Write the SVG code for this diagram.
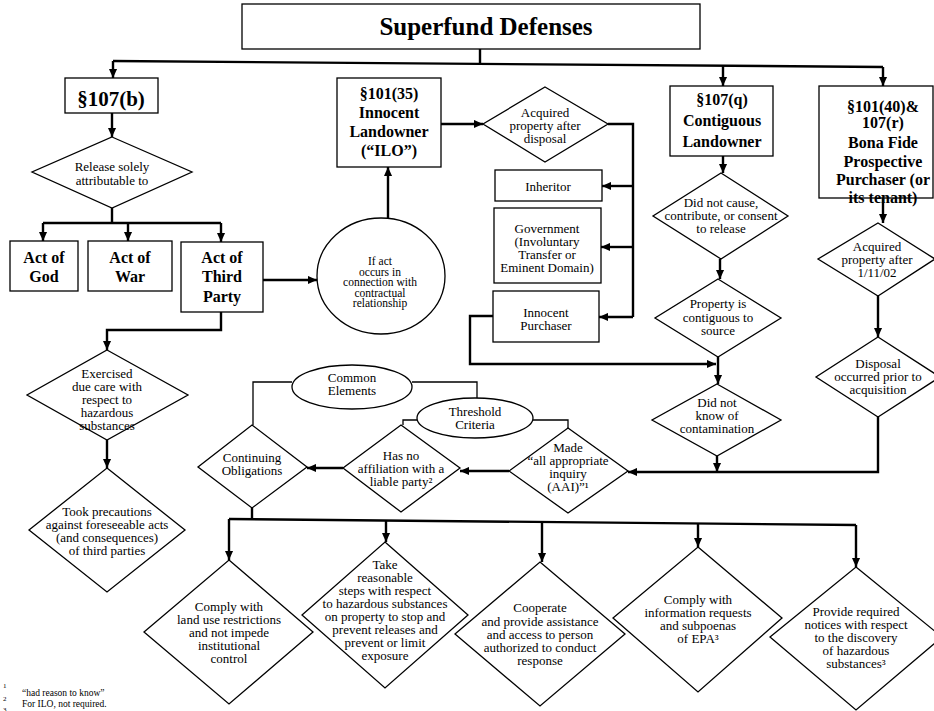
<svg xmlns="http://www.w3.org/2000/svg" width="934" height="711" viewBox="0 0 934 711">
<style>
.shape{fill:#fff;stroke:#000;stroke-width:1.3}
.hd{font-family:"Liberation Serif","Times New Roman",serif;font-weight:bold;font-size:16px;text-anchor:middle;fill:#000}
.tx{font-family:"Liberation Serif","Times New Roman",serif;font-size:13px;text-anchor:middle;fill:#000}
.sm{font-family:"Liberation Serif","Times New Roman",serif;font-size:11.5px;text-anchor:middle;fill:#000}
.fn{font-family:"Liberation Serif","Times New Roman",serif;font-size:9.5px;fill:#000}
.ln{fill:none;stroke:#000;stroke-width:2.4}
.thin{fill:none;stroke:#000;stroke-width:1.3}
</style>
<defs>
<marker id="ah" markerUnits="userSpaceOnUse" markerWidth="9" markerHeight="9" viewBox="0 0 10 10" refX="10" refY="5" orient="auto"><path d="M0,0.5 L10,5 L0,9.5 z" fill="#000"/></marker>
</defs>
<rect width="934" height="711" fill="#fff"/>

<g id="connectors">
<path class="ln" d="M480,49 V64"/>
<path class="ln" d="M113,61 L883,67"/>
<path class="ln" d="M113,61 V78" marker-end="url(#ah)"/>
<path class="ln" d="M723,66 V86" marker-end="url(#ah)"/>
<path class="ln" d="M883,67 V86" marker-end="url(#ah)"/>
<path class="ln" d="M112,113 V137" marker-end="url(#ah)"/>
<path class="ln" d="M112,208 V223"/>
<path class="ln" d="M43,223 H221"/>
<path class="ln" d="M43,223 V241" marker-end="url(#ah)"/>
<path class="ln" d="M128,223 V241" marker-end="url(#ah)"/>
<path class="ln" d="M221,223 V242" marker-end="url(#ah)"/>
<path class="ln" d="M263,280 H317" marker-end="url(#ah)"/>
<path class="ln" d="M388,219 V167" marker-end="url(#ah)"/>
<path class="ln" d="M221,312 V330 H107 V350" marker-end="url(#ah)"/>
<path class="ln" d="M107,440 V468" marker-end="url(#ah)"/>
<path class="ln" d="M441,124 H483" marker-end="url(#ah)"/>
<path class="ln" d="M608,124 H633 V317"/>
<path class="ln" d="M633,186 H602" marker-end="url(#ah)"/>
<path class="ln" d="M633,247 H601" marker-end="url(#ah)"/>
<path class="ln" d="M633,317 H599" marker-end="url(#ah)"/>
<path class="ln" d="M493,316 H470 V364 H716" marker-end="url(#ah)"/>
<path class="ln" d="M723,156 V173" marker-end="url(#ah)"/>
<path class="ln" d="M720,259 V279" marker-end="url(#ah)"/>
<path class="ln" d="M718,357 V384" marker-end="url(#ah)"/>
<path class="ln" d="M717,456 V472" marker-end="url(#ah)"/>
<path class="ln" d="M878,417 V472 H628" marker-end="url(#ah)"/>
<path class="ln" d="M883,198 V223" marker-end="url(#ah)"/>
<path class="ln" d="M878,296 V337" marker-end="url(#ah)"/>
<path class="ln" d="M509,471 H460" marker-end="url(#ah)"/>
<path class="ln" d="M343,468 H307" marker-end="url(#ah)"/>
<path class="thin" d="M292,382 H253 V425"/>
<path class="thin" d="M412,382 H477 V398"/>
<path class="thin" d="M417,420 H403 V425"/>
<path class="thin" d="M533,420 H568 V428"/>
<path class="ln" d="M252,508 V520"/>
<path class="ln" d="M229,519 L856,525"/>
<path class="ln" d="M229,519 V560" marker-end="url(#ah)"/>
<path class="ln" d="M386,520 V542" marker-end="url(#ah)"/>
<path class="ln" d="M542,522 V562" marker-end="url(#ah)"/>
<path class="ln" d="M698,523 V547" marker-end="url(#ah)"/>
<path class="ln" d="M856,525 V567" marker-end="url(#ah)"/>
</g>

<g id="title">
<rect class="shape" x="242" y="4" width="458" height="45"/>
<text x="486" y="35" class="hd" style="font-size:25px">Superfund Defenses</text>
</g>

<g id="s107b">
<rect class="shape" x="65" y="78" width="93" height="35"/>
<text x="111" y="106" class="hd" style="font-size:21px">§107(b)</text>
</g>

<g id="release">
<polygon class="shape" points="112,137 192,172 112,208 32,172"/>
<text class="tx"><tspan x="112" y="171">Release solely</tspan><tspan x="112" y="185">attributable to</tspan></text>
</g>

<g id="actgod">
<rect class="shape" x="10" y="241" width="68" height="50"/>
<text class="hd"><tspan x="44" y="263">Act of</tspan><tspan x="44" y="282">God</tspan></text>
</g>

<g id="actwar">
<rect class="shape" x="88" y="241" width="84" height="50"/>
<text class="hd"><tspan x="130" y="263">Act of</tspan><tspan x="130" y="282">War</tspan></text>
</g>

<g id="actthird">
<rect class="shape" x="181" y="242" width="82" height="70"/>
<text class="hd"><tspan x="222" y="263">Act of</tspan><tspan x="222" y="282">Third</tspan><tspan x="222" y="302">Party</tspan></text>
</g>

<g id="contractual">
<ellipse class="shape" cx="381" cy="276" rx="64" ry="58"/>
<text class="sm"><tspan x="380" y="265">If act</tspan><tspan x="380" y="275.5">occurs in</tspan><tspan x="380" y="286">connection with</tspan><tspan x="380" y="296.5">contractual</tspan><tspan x="380" y="307">relationship</tspan></text>
</g>

<g id="ilo">
<rect class="shape" x="337" y="78" width="104" height="89"/>
<text class="hd"><tspan x="389" y="99">§101(35)</tspan><tspan x="389" y="118">Innocent</tspan><tspan x="389" y="137">Landowner</tspan><tspan x="389" y="156">(“ILO”)</tspan></text>
</g>

<g id="acqdisposal">
<polygon class="shape" points="545,87 608,124 545,162 483,124"/>
<text class="tx"><tspan x="545" y="117">Acquired</tspan><tspan x="545" y="130">property after</tspan><tspan x="545" y="143">disposal</tspan></text>
</g>

<g id="inheritor">
<rect class="shape" x="495" y="170" width="107" height="31"/>
<text x="548" y="191" class="tx">Inheritor</text>
</g>

<g id="government">
<rect class="shape" x="494" y="208" width="107" height="75"/>
<text class="tx"><tspan x="547" y="233">Government</tspan><tspan x="547" y="246">(Involuntary</tspan><tspan x="547" y="259">Transfer or</tspan><tspan x="547" y="272">Eminent Domain)</tspan></text>
</g>

<g id="innocentpurchaser">
<rect class="shape" x="493" y="291" width="106" height="51"/>
<text class="tx"><tspan x="546" y="317">Innocent</tspan><tspan x="546" y="330">Purchaser</tspan></text>
</g>

<g id="s107q">
<rect class="shape" x="670" y="86" width="103" height="70"/>
<text class="hd"><tspan x="722" y="105">§107(q)</tspan><tspan x="722" y="126">Contiguous</tspan><tspan x="722" y="147">Landowner</tspan></text>
</g>

<g id="didnotcause">
<polygon class="shape" points="721,173 788,216 721,259 653,216"/>
<text class="tx"><tspan x="721" y="207">Did not cause,</tspan><tspan x="721" y="220">contribute, or consent</tspan><tspan x="721" y="233">to release</tspan></text>
</g>

<g id="contiguous">
<polygon class="shape" points="718,279 781,318 718,357 655,318"/>
<text class="tx"><tspan x="718" y="308">Property is</tspan><tspan x="718" y="322">contiguous to</tspan><tspan x="718" y="335">source</tspan></text>
</g>

<g id="didnotknow">
<polygon class="shape" points="717,384 781,420 717,456 652,420"/>
<text class="tx"><tspan x="717" y="407">Did not</tspan><tspan x="717" y="420">know of</tspan><tspan x="717" y="433">contamination</tspan></text>
</g>

<g id="bfpp">
<rect class="shape" x="819" y="86" width="114" height="112"/>
<text class="hd"><tspan x="883" y="112">§101(40)&amp;</tspan><tspan x="883" y="128">107(r)</tspan><tspan x="883" y="148">Bona Fide</tspan><tspan x="883" y="167">Prospective</tspan><tspan x="883" y="185">Purchaser (or</tspan><tspan x="883" y="203">its tenant)</tspan></text>
</g>

<g id="acq0111">
<polygon class="shape" points="878,223 935,259 878,296 818,259"/>
<text class="tx"><tspan x="877" y="251">Acquired</tspan><tspan x="877" y="264">property after</tspan><tspan x="877" y="277">1/11/02</tspan></text>
</g>

<g id="disposalprior">
<polygon class="shape" points="878,337 940,377 878,417 816,377"/>
<text class="tx"><tspan x="878" y="368">Disposal</tspan><tspan x="878" y="381">occurred prior to</tspan><tspan x="878" y="394">acquisition</tspan></text>
</g>

<g id="commonelements">
<ellipse class="shape" cx="352" cy="387" rx="60" ry="22"/>
<text class="tx"><tspan x="352" y="382">Common</tspan><tspan x="352" y="395">Elements</tspan></text>
</g>

<g id="threshold">
<ellipse class="shape" cx="475" cy="418" rx="58" ry="20"/>
<text class="tx"><tspan x="475" y="416">Threshold</tspan><tspan x="475" y="429">Criteria</tspan></text>
</g>

<g id="continuing">
<polygon class="shape" points="252,425 307,467 252,508 198,467"/>
<text class="tx"><tspan x="252" y="462">Continuing</tspan><tspan x="252" y="475">Obligations</tspan></text>
</g>

<g id="noaffiliation">
<polygon class="shape" points="401,425 460,468 401,512 343,468"/>
<text class="tx"><tspan x="401" y="460">Has no</tspan><tspan x="401" y="473">affiliation with a</tspan><tspan x="401" y="486">liable party²</tspan></text>
</g>

<g id="aai">
<polygon class="shape" points="568,428 628,471 568,513 509,471"/>
<text class="tx"><tspan x="568" y="452">Made</tspan><tspan x="568" y="465">“all appropriate</tspan><tspan x="568" y="478">inquiry</tspan><tspan x="568" y="491">(AAI)”¹</tspan></text>
</g>

<g id="exercised">
<polygon class="shape" points="107,350 188,395 107,440 27,395"/>
<text class="tx"><tspan x="107" y="378">Exercised</tspan><tspan x="107" y="391">due care with</tspan><tspan x="107" y="404">respect to</tspan><tspan x="107" y="417">hazardous</tspan><tspan x="107" y="430">substances</tspan></text>
</g>

<g id="precautions">
<polygon class="shape" points="107,468 185,530 107,592 29,530"/>
<text class="tx"><tspan x="107" y="516">Took precautions</tspan><tspan x="107" y="529">against foreseeable acts</tspan><tspan x="107" y="542">(and consequences)</tspan><tspan x="107" y="555">of third parties</tspan></text>
</g>

<g id="landuse">
<polygon class="shape" points="229,560 313,632 229,704 144,632"/>
<text class="tx"><tspan x="229" y="611">Comply with</tspan><tspan x="229" y="624">land use restrictions</tspan><tspan x="229" y="637">and not impede</tspan><tspan x="229" y="650">institutional</tspan><tspan x="229" y="663">control</tspan></text>
</g>

<g id="reasonablesteps">
<polygon class="shape" points="385,542 468,615 385,688 302,615"/>
<text class="tx"><tspan x="385" y="569">Take</tspan><tspan x="385" y="582">reasonable</tspan><tspan x="385" y="595">steps with respect</tspan><tspan x="385" y="608">to hazardous substances</tspan><tspan x="385" y="621">on property to stop and</tspan><tspan x="385" y="634">prevent releases and</tspan><tspan x="385" y="647">prevent or limit</tspan><tspan x="385" y="660">exposure</tspan></text>
</g>

<g id="cooperate">
<polygon class="shape" points="540,562 625,634 540,706 455,634"/>
<text class="tx"><tspan x="540" y="612">Cooperate</tspan><tspan x="540" y="626">and provide assistance</tspan><tspan x="540" y="639">and access to person</tspan><tspan x="540" y="652">authorized to conduct</tspan><tspan x="540" y="665">response</tspan></text>
</g>

<g id="inforequests">
<polygon class="shape" points="698,547 782,618 698,692 613,618"/>
<text class="tx"><tspan x="698" y="604">Comply with</tspan><tspan x="698" y="617">information requests</tspan><tspan x="698" y="630">and subpoenas</tspan><tspan x="698" y="643">of EPA³</tspan></text>
</g>

<g id="notices">
<polygon class="shape" points="856,567 942,637 856,710 770,637"/>
<text class="tx"><tspan x="856" y="616">Provide required</tspan><tspan x="856" y="629">notices with respect</tspan><tspan x="856" y="642">to the discovery</tspan><tspan x="856" y="655">of hazardous</tspan><tspan x="856" y="668">substances³</tspan></text>
</g>

<g id="footnotes">
<text class="fn" style="font-size:7px" x="3" y="688">1</text>
<text class="fn" x="22" y="696">“had reason to know”</text>
<text class="fn" style="font-size:7px" x="3" y="701">2</text>
<text class="fn" x="22" y="707">For ILO, not required.</text>
<text class="fn" style="font-size:7px" x="3" y="712">3</text>
<text class="fn" x="22" y="719">For ILO, not explicitly required.</text>
</g>
</svg>
